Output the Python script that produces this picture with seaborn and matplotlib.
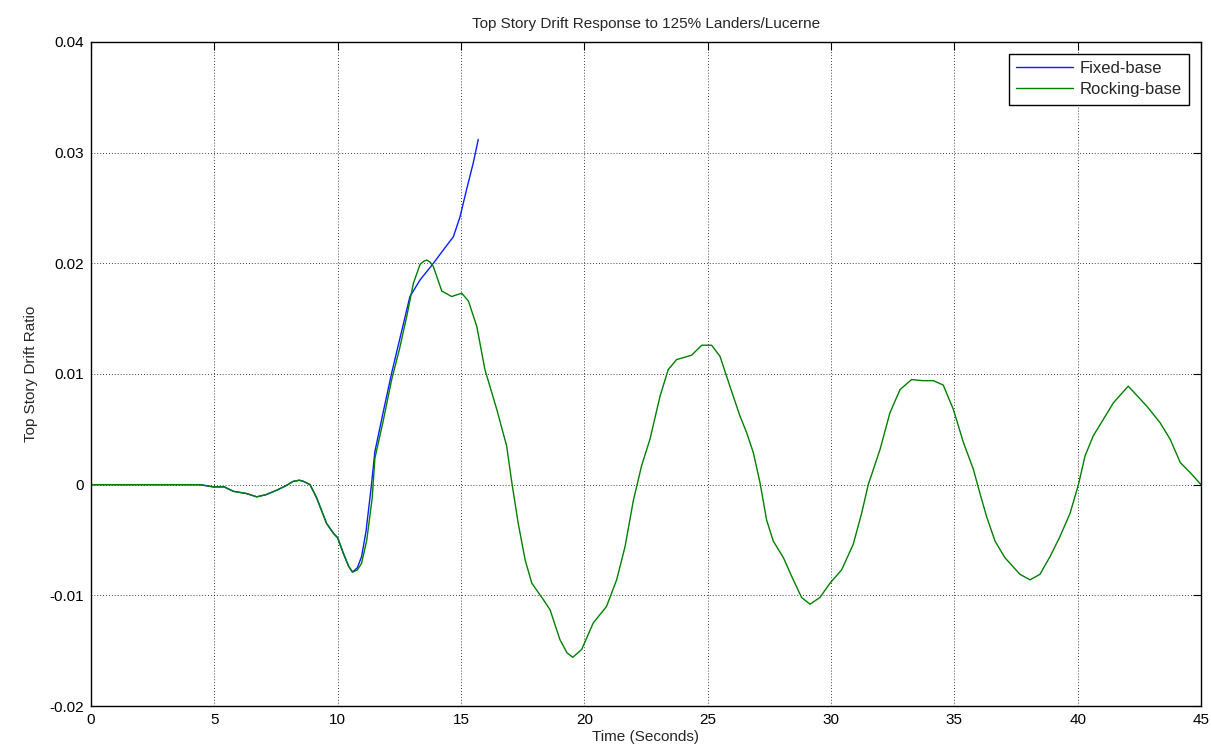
import numpy as np
import pandas as pd
import matplotlib
matplotlib.use("Agg")
import matplotlib.pyplot as plt
import seaborn as sns
from matplotlib.ticker import FuncFormatter

# ---- data ----
t_rock = [0, 1, 2, 3, 3.8, 4.42, 4.96, 5.4, 5.77, 6.3, 6.72, 7.1, 7.53, 7.9, 8.2, 8.45, 8.61, 8.88,
          9.15, 9.55, 9.83, 10.0, 10.23, 10.45, 10.61, 10.8, 10.97, 11.18, 11.4, 11.51, 11.85,
          12.19, 12.5, 12.8, 13.07, 13.34, 13.5, 13.61, 13.75, 13.88, 14.05, 14.22, 14.62, 15.03, 15.3,
          15.64, 15.97, 16.45, 16.85, 17.06, 17.32, 17.6, 17.87, 18.34, 18.61, 19.01, 19.3,
          19.53, 19.89, 20.36, 20.9, 21.31, 21.65, 21.99, 22.32, 22.66, 23.07, 23.4, 23.74,
          24.35, 24.76, 25.16, 25.5, 25.9, 26.31, 26.58, 26.85, 27.12, 27.39, 27.66, 28.07,
          28.47, 28.81, 29.15, 29.55, 29.96, 30.43, 30.9, 31.24, 31.51, 31.99, 32.39, 32.8,
          33.27, 33.7, 34.15, 34.55, 34.96, 35.37, 35.77, 36.04, 36.31, 36.65, 37.05, 37.66,
          38.07, 38.47, 38.88, 39.28, 39.69, 40.03, 40.3, 40.63, 41.04, 41.45, 42.05, 42.8,
          43.34, 43.75, 44.16, 44.6, 45.0]
drift_rock = [0, 0, 0, 0, 0, 0, -0.0002, -0.0002, -0.0006, -0.0008, -0.0011, -0.0009, -0.0005,
              -0.0001, 0.0003, 0.0004, 0.0003, 0.0, -0.0012, -0.0035, -0.0044, -0.0048, -0.0062, -0.0074,
              -0.0079, -0.0077, -0.0071, -0.005, -0.0012, 0.0024, 0.0058, 0.0095, 0.0122, 0.0152,
              0.0182, 0.0199, 0.0202, 0.0203, 0.0201, 0.0197, 0.0186, 0.0175, 0.017, 0.0173, 0.0166, 0.0143,
              0.0104, 0.0068, 0.0035, 0.0002, -0.0035, -0.0068, -0.0089, -0.0104, -0.0113,
              -0.014, -0.0152, -0.0156, -0.0149, -0.0125, -0.011, -0.0086, -0.0056, -0.0014,
              0.0017, 0.0041, 0.008, 0.0104, 0.0113, 0.0117, 0.0126, 0.0126, 0.0116, 0.0089,
              0.0062, 0.0047, 0.0029, 0.0002, -0.0032, -0.0051, -0.0066, -0.0086, -0.0102,
              -0.0108, -0.0102, -0.0089, -0.0077, -0.0054, -0.0026, 0.0, 0.0032, 0.0065, 0.0086,
              0.0095, 0.0094, 0.0094, 0.009, 0.0068, 0.0038, 0.0014, -0.0008, -0.0029, -0.0051,
              -0.0066, -0.0081, -0.0086, -0.0081, -0.0065, -0.0047, -0.0026, 0.0, 0.0026, 0.0044,
              0.0059, 0.0074, 0.0089, 0.0071, 0.0056, 0.0041, 0.002, 0.001, 0.0]

t_fixed = [0, 1, 2, 3, 3.8, 4.42, 4.96, 5.4, 5.77, 6.3, 6.72, 7.1, 7.53, 7.9, 8.2, 8.45, 8.61, 8.88,
           9.15, 9.55, 9.83, 10.0, 10.23, 10.45, 10.6, 10.8, 10.97, 11.15, 11.35, 11.51, 11.85,
           12.19, 12.5, 12.93, 13.34, 13.88, 14.28, 14.69, 14.96, 15.23, 15.5, 15.7]
drift_fixed = [0, 0, 0, 0, 0, 0, -0.0002, -0.0002, -0.0006, -0.0008, -0.0011, -0.0009, -0.0005,
               -0.0001, 0.0003, 0.0004, 0.0003, 0.0, -0.0012, -0.0035, -0.0044, -0.0048, -0.0062, -0.0074,
               -0.0079, -0.0075, -0.0065, -0.0042, -0.0004, 0.003, 0.0066, 0.0101, 0.013, 0.017,
               0.0185, 0.02, 0.0212, 0.0224, 0.0242, 0.0267, 0.0291, 0.0312]

series_names = ["Fixed-base", "Rocking-base"]
series_colors = ["#0a1eff", "#008000"]
x_ticks = [0, 5, 10, 15, 20, 25, 30, 35, 40, 45]
y_ticks = [-0.02, -0.01, 0, 0.01, 0.02, 0.03, 0.04]
title = "Top Story Drift Response to 125% Landers/Lucerne"
xlabel = "Time (Seconds)"
ylabel = "Top Story Drift Ratio"

df = pd.concat([
    pd.DataFrame({"t": t_fixed, "drift": drift_fixed, "case": series_names[0]}),
    pd.DataFrame({"t": t_rock, "drift": drift_rock, "case": series_names[1]}),
], ignore_index=True)

sns.set_theme(style="white")
plt.rcParams["font.family"] = ["Liberation Sans", "DejaVu Sans"]
plt.rcParams["axes.unicode_minus"] = False

fig = plt.figure(figsize=(12.11, 7.52), dpi=100)
ax = fig.add_axes([91 / 1211, 46 / 752, 1110 / 1211, 664 / 752])

sns.lineplot(data=df, x="t", y="drift", hue="case", hue_order=series_names,
             palette=series_colors, estimator=None, sort=False, linewidth=1.0, ax=ax)

ax.set_xlim(0, 45)
ax.set_ylim(-0.02, 0.04)
ax.set_xticks(x_ticks)
ax.set_yticks(y_ticks)
ax.xaxis.set_major_formatter(FuncFormatter(lambda v, p: "%g" % v))
ax.yaxis.set_major_formatter(FuncFormatter(lambda v, p: "%g" % round(v, 4)))
ax.grid(True, color="black", linestyle=(0, (1, 2.5)), linewidth=0.6)
ax.tick_params(direction="in", length=6, width=0.8, top=True, right=True,
               labelsize=11, colors="black", pad=5)
for s in ax.spines.values():
    s.set_color("black")
    s.set_linewidth(1.0)
ax.set_xlabel(xlabel, fontsize=11, labelpad=2)
ax.set_ylabel(ylabel, fontsize=11, labelpad=8)
ax.set_title(title, fontsize=11, pad=10)

leg = ax.legend(loc="upper right", fontsize=12, frameon=True, fancybox=False,
                edgecolor="black", framealpha=1, borderaxespad=0.7,
                handlelength=3.4, handletextpad=0.4, labelspacing=0.35,
                borderpad=0.45)
leg.get_frame().set_linewidth(1.0)

fig.savefig("out.png", dpi=100, facecolor="white")
